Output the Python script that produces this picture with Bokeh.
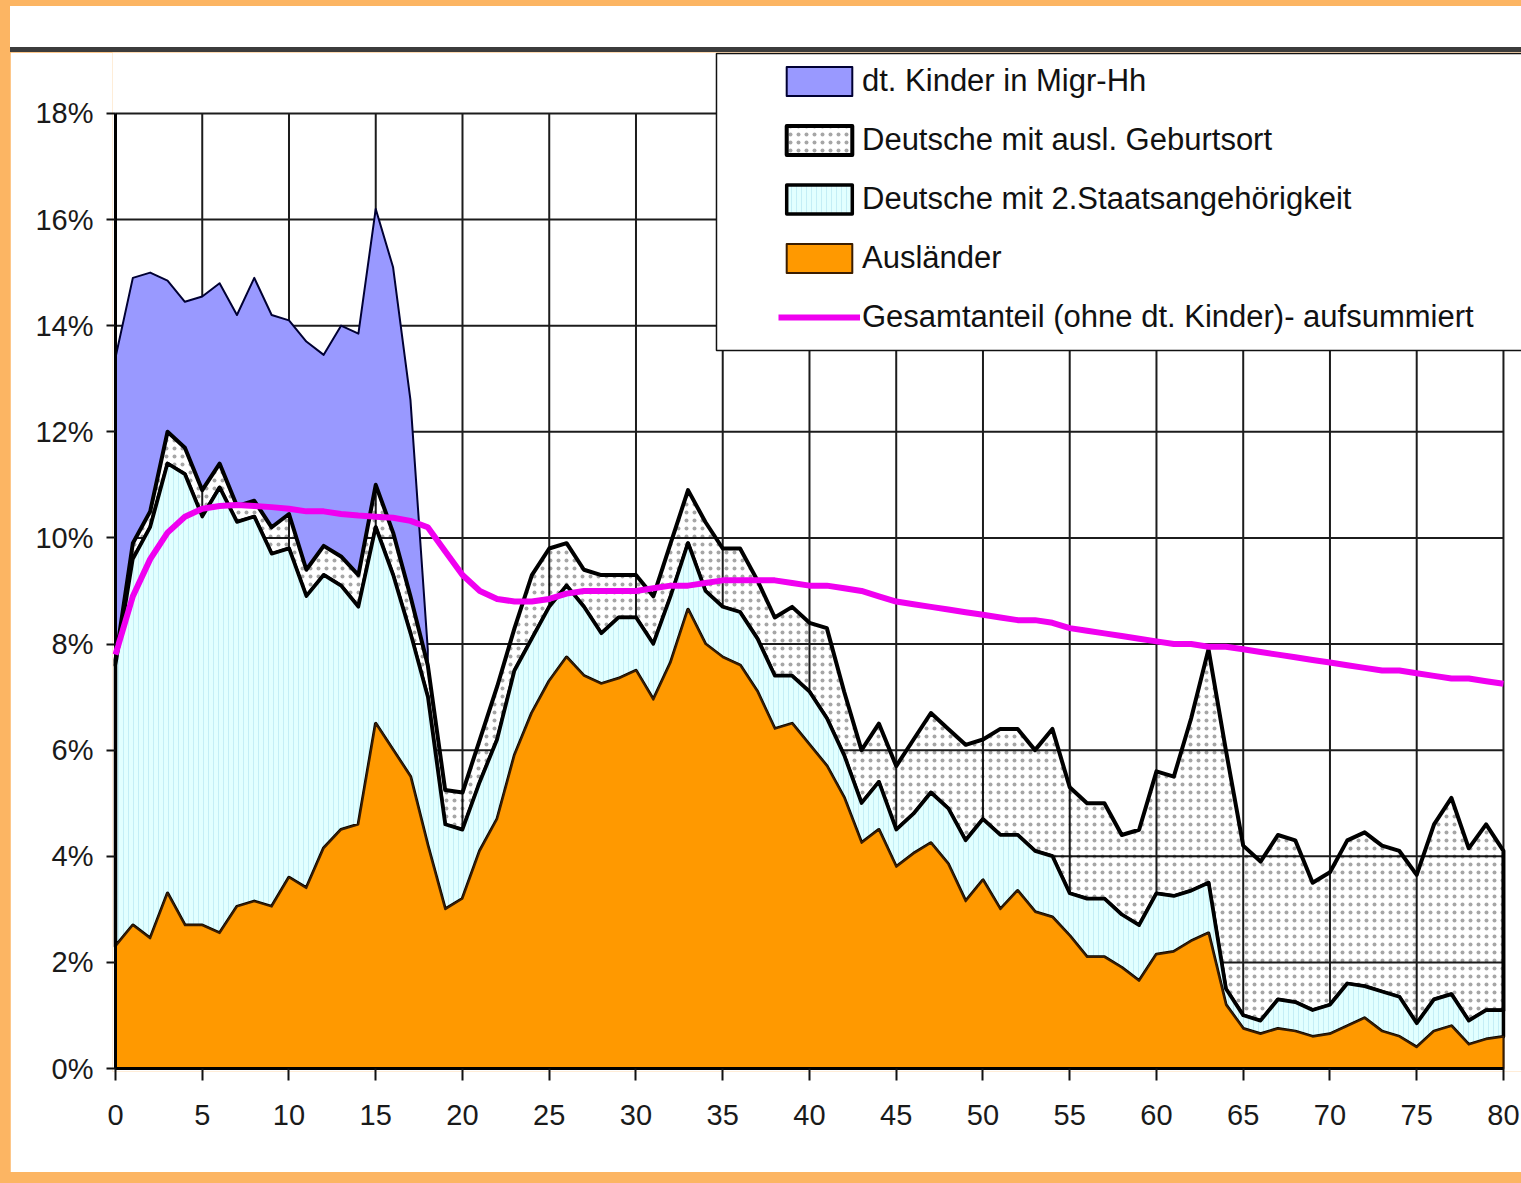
import numpy as np
from bokeh.plotting import figure
from bokeh.models import FixedTicker, PrintfTickFormatter, Legend, LegendItem, Div, Range1d
from bokeh.layouts import column
from bokeh.embed import file_html
from bokeh.resources import INLINE

# ---------------- data (percent of age group) ----------------
ages = list(range(0, 81))

auslaender = [2.3, 2.7, 2.45, 3.3, 2.7, 2.7, 2.55, 3.05, 3.15, 3.05,
              3.6, 3.4, 4.15, 4.5, 4.6, 6.5, 6.0, 5.5, 4.2, 3.0,
              3.2, 4.1, 4.7, 5.9, 6.7, 7.3, 7.75, 7.4, 7.25, 7.35,
              7.5, 6.95, 7.65, 8.65, 8.0, 7.75, 7.6, 7.1, 6.4, 6.5,
              6.1, 5.7, 5.1, 4.25, 4.5, 3.8, 4.05, 4.25, 3.85, 3.15,
              3.55, 3.0, 3.35, 2.95, 2.85, 2.5, 2.1, 2.1, 1.9, 1.65,
              2.15, 2.2, 2.4, 2.55, 1.2, 0.75, 0.65, 0.75, 0.7, 0.6,
              0.65, 0.8, 0.95, 0.7, 0.6, 0.4, 0.7, 0.8, 0.45, 0.55, 0.6]

zweite_staatsangehoerigkeit = [
              5.3, 6.9, 7.75, 8.1, 8.5, 7.7, 8.4, 7.25, 7.25, 6.65,
              6.2, 5.5, 5.15, 4.6, 4.1, 3.7, 3.3, 2.7, 2.8, 1.6,
              1.3, 1.3, 1.5, 1.6, 1.4, 1.4, 1.35, 1.3, 0.95, 1.15,
              1.0, 1.05, 1.25, 1.25, 1.0, 0.95, 1.0, 1.0, 1.0, 0.9,
              1.0, 0.9, 0.8, 0.75, 0.9, 0.7, 0.75, 0.95, 1.05, 1.15,
              1.15, 1.4, 1.05, 1.15, 1.15, 0.8, 1.1, 1.1, 1.0, 1.05,
              1.15, 1.05, 0.95, 0.95, 0.3, 0.25, 0.25, 0.55, 0.55, 0.5,
              0.55, 0.8, 0.6, 0.75, 0.75, 0.45, 0.6, 0.6, 0.45, 0.55, 0.5]

ausl_geburtsort = [
              0.1, 0.3, 0.3, 0.6, 0.5, 0.5, 0.45, 0.3, 0.3, 0.5,
              0.65, 0.5, 0.55, 0.55, 0.6, 0.8, 0.8, 0.7, 0.6, 0.65,
              0.7, 0.8, 1.0, 0.8, 1.2, 1.1, 0.8, 0.7, 1.1, 0.8,
              0.8, 0.9, 1.0, 1.0, 1.3, 1.1, 1.2, 1.1, 1.1, 1.3,
              1.3, 1.7, 1.2, 1.0, 1.1, 1.2, 1.4, 1.5, 1.5, 1.8,
              1.5, 2.0, 2.0, 1.9, 2.4, 2.0, 1.8, 1.8, 1.5, 1.8,
              2.3, 2.25, 3.25, 4.4, 4.5, 3.2, 3.0, 3.1, 3.05, 2.4,
              2.5, 2.7, 2.9, 2.75, 2.75, 2.8, 3.3, 3.7, 3.25, 3.5, 3.0]

kinder_ages = list(range(0, 19))
kinder_migr_hh = [5.7, 5.0, 4.5, 2.85, 2.75, 3.65, 3.4, 3.6, 4.2, 4.0,
                  3.65, 4.3, 3.6, 4.35, 4.55, 5.2, 5.0, 3.7, 0.3]

gesamtanteil = [7.8, 8.9, 9.6, 10.1, 10.4, 10.55, 10.6, 10.62, 10.6, 10.58,
                10.55, 10.5, 10.5, 10.45, 10.42, 10.4, 10.38, 10.32, 10.2, 9.75,
                9.3, 9.0, 8.85, 8.8, 8.8, 8.85, 8.95, 9.0, 9.0, 9.0,
                9.0, 9.05, 9.1, 9.1, 9.15, 9.2, 9.2, 9.2, 9.2, 9.15,
                9.1, 9.1, 9.05, 9.0, 8.9, 8.8, 8.75, 8.7, 8.65, 8.6,
                8.55, 8.5, 8.45, 8.45, 8.4, 8.3, 8.25, 8.2, 8.15, 8.1,
                8.05, 8.0, 8.0, 7.95, 7.95, 7.9, 7.85, 7.8, 7.75, 7.7,
                7.65, 7.6, 7.55, 7.5, 7.5, 7.45, 7.4, 7.35, 7.35, 7.3, 7.25]

x_ticks = list(range(0, 81, 5))
y_ticks = list(range(0, 19, 2))

series_labels = ["dt. Kinder in Migr-Hh",
                 "Deutsche mit ausl. Geburtsort",
                 "Deutsche mit 2.Staatsangehörigkeit",
                 "Ausländer",
                 "Gesamtanteil (ohne dt. Kinder)- aufsummiert"]

# ---------------- stacking ----------------
x = np.array(ages, dtype=float)
A = np.array(auslaender)
B = A + np.array(zweite_staatsangehoerigkeit)
C = B + np.array(ausl_geburtsort)
nk = len(kinder_ages)
D = C[:nk] + np.array(kinder_migr_hh)


def band(xv, lo, hi):
    xv = np.asarray(xv, dtype=float)
    return (np.concatenate([xv, xv[::-1]]),
            np.concatenate([np.asarray(hi), np.asarray(lo)[::-1]]))


# ---------------- figure ----------------
p = figure(width=1511, height=1120,
           x_range=Range1d(-0.173, 81.04), y_range=Range1d(-0.0565, 19.148),
           output_backend="svg", toolbar_location=None,
           min_border_left=102, min_border_right=0,
           min_border_top=0, min_border_bottom=101)
p.outline_line_color = None
p.background_fill_color = "white"
p.border_fill_color = "white"
p.xgrid.visible = False
p.ygrid.visible = False

grid_col = "#1c1c1c"
ymax = max(y_ticks)
xmax = max(x_ticks)
p.segment(x0=x_ticks, y0=[0] * len(x_ticks), x1=x_ticks, y1=[ymax] * len(x_ticks),
          line_color=grid_col, line_width=2)
p.segment(x0=[0] * (len(y_ticks) - 1), y0=y_ticks[1:], x1=[xmax] * (len(y_ticks) - 1), y1=y_ticks[1:],
          line_color=grid_col, line_width=2)

# white legend panel (box of the legend)
p.quad(left=34.64, right=83, top=19.13, bottom=13.53,
       fill_color="white", line_color="#111111", line_width=1.5)

# stacked areas (drawn from the top layer downwards so that lower outlines stay crisp)
bx, by = band(kinder_ages, C[:nk], D)
r_kinder = p.patch(bx, by, fill_color="#9999FF", line_color="#000033", line_width=2,
                   line_join="round")

gx, gy = band(x, B, C)
r_geb = p.patch(gx, gy, fill_color="white", fill_alpha=0.0,
                hatch_pattern="dot", hatch_color="black", hatch_alpha=0.35,
                hatch_scale=8, hatch_weight=0.5,
                line_color="black", line_width=4, line_join="round")

zx, zy = band(x, A, B)
r_zweite = p.patch(zx, zy, fill_color="#E2FFFF",
                   hatch_pattern="vertical_line", hatch_color="#C4EEF6", hatch_scale=5, hatch_weight=1,
                   line_color="black", line_width=3.5, line_join="round")

ax_, ay_ = band(x, np.zeros_like(A), A)
r_ausl = p.patch(ax_, ay_, fill_color="#FF9900", line_color="#3b1d00", line_width=2,
                 line_join="round")

# axis lines (0% and age 0)
p.segment(x0=[0, 0], y0=[0, 0], x1=[xmax, 0], y1=[0, ymax], line_color="black", line_width=3)

r_ges = p.line(ages, gesamtanteil, line_color="#F000F0", line_width=6, line_join="round")

# ---------------- axes ----------------
tick_font = "Liberation Sans"
p.xaxis.ticker = FixedTicker(ticks=x_ticks)
p.yaxis.ticker = FixedTicker(ticks=y_ticks)
p.yaxis.formatter = PrintfTickFormatter(format="%d%%")
for axis in (p.xaxis, p.yaxis):
    axis.axis_line_color = None
    axis.major_tick_line_color = "#111111"
    axis.major_tick_line_width = 2
    axis.minor_tick_line_color = None
    axis.major_label_text_font = tick_font
    axis.major_label_text_font_size = "29px"
    axis.major_label_text_color = "#1a1a1a"
p.xaxis.major_tick_out = 9
p.xaxis.major_tick_in = 3
p.xaxis.major_label_standoff = 24
p.yaxis.major_tick_out = 6
p.yaxis.major_tick_in = 3
p.yaxis.major_label_standoff = 13

# ---------------- legend ----------------
legend = Legend(items=[
    LegendItem(label=series_labels[0], renderers=[r_kinder]),
    LegendItem(label=series_labels[1], renderers=[r_geb]),
    LegendItem(label=series_labels[2], renderers=[r_zweite]),
    LegendItem(label=series_labels[3], renderers=[r_ausl]),
    LegendItem(label=series_labels[4], renderers=[r_ges]),
], location=(666, 736), padding=0, spacing=23, glyph_width=82, glyph_height=36,
    label_height=36, label_standoff=2, border_line_color=None, background_fill_alpha=0,
    label_text_font="Liberation Sans", label_text_font_size="31px", label_text_color="#111111")
p.add_layout(legend)

top_space = Div(text="", width=1511, height=41, margin=0, styles={"background-color": "white"})
top_bar = Div(text="", width=1511, height=5, margin=0, styles={"background-color": "#3c3c3c"})
layout = column(top_space, top_bar, p, spacing=0, margin=(6, 0, 0, 10))

html = file_html(layout, INLINE, title="Migrationsanteil nach Alter")
html = html.replace("</head>", "<style>body{background-color:#FCB563;}</style></head>", 1)
open("out.html", "w").write(html)
